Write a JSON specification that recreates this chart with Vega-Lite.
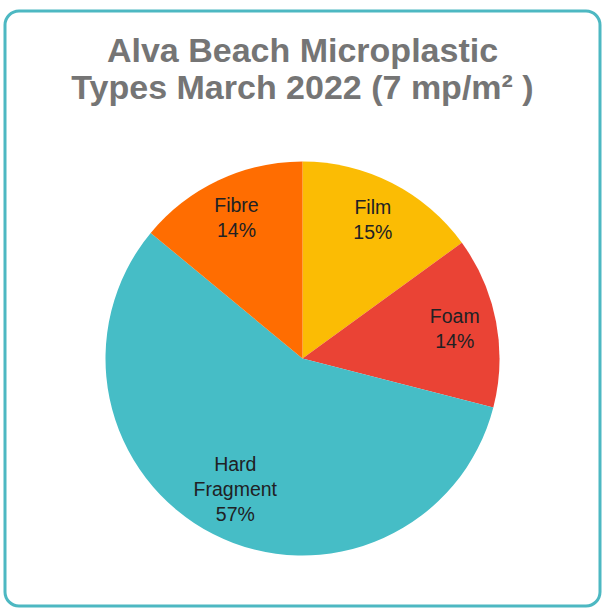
{
  "$schema": "https://vega.github.io/schema/vega-lite/v6.json",
  "width": 603,
  "height": 608,
  "autosize": {"type": "fit", "contains": "padding"},
  "padding": {"left": 5, "top": 11, "right": 3, "bottom": 2},
  "background": "white",
  "view": {"stroke": "#4db8c2", "strokeWidth": 3, "cornerRadius": 14, "fill": "white"},
  "title": {
    "text": ["Alva Beach Microplastic", "Types March 2022 (7 mp/m² )"],
    "orient": "top",
    "anchor": "middle",
    "baseline": "top",
    "offset": -95,
    "font": "Liberation Sans",
    "fontSize": 34,
    "fontWeight": "bold",
    "color": "#757575",
    "lineHeight": 37
  },
  "data": {
    "values": [
      {"type": "Film", "pct": 15, "order": 1, "label2": "Film\n15%", "label3": ""},
      {"type": "Foam", "pct": 14, "order": 2, "label2": "Foam\n14%", "label3": ""},
      {"type": "Hard Fragment", "pct": 57, "order": 3, "label2": "", "label3": "Hard\nFragment\n57%"},
      {"type": "Fibre", "pct": 14, "order": 4, "label2": "Fibre\n14%", "label3": ""}
    ]
  },
  "encoding": {
    "theta": {"field": "pct", "type": "quantitative", "stack": true},
    "order": {"field": "order", "type": "quantitative"}
  },
  "layer": [
    {
      "mark": {"type": "arc", "radius": 197, "yOffset": 50},
      "encoding": {
        "color": {
          "field": "type",
          "type": "nominal",
          "scale": {
            "domain": ["Film", "Foam", "Hard Fragment", "Fibre"],
            "range": ["#FBBC04", "#EA4335", "#46BDC6", "#FF6D01"]
          },
          "legend": null
        }
      }
    },
    {
      "mark": {
        "type": "text",
        "radius": 155,
        "yOffset": 37.5,
        "lineBreak": "\n",
        "lineHeight": 25,
        "font": "Liberation Sans",
        "fontSize": 19.5,
        "color": "#202124",
        "align": "center",
        "baseline": "middle"
      },
      "encoding": {
        "text": {"field": "label2", "type": "nominal"}
      }
    },
    {
      "mark": {
        "type": "text",
        "radius": 148,
        "yOffset": 25,
        "lineBreak": "\n",
        "lineHeight": 25,
        "font": "Liberation Sans",
        "fontSize": 19.5,
        "color": "#202124",
        "align": "center",
        "baseline": "middle"
      },
      "encoding": {
        "text": {"field": "label3", "type": "nominal"}
      }
    }
  ]
}
